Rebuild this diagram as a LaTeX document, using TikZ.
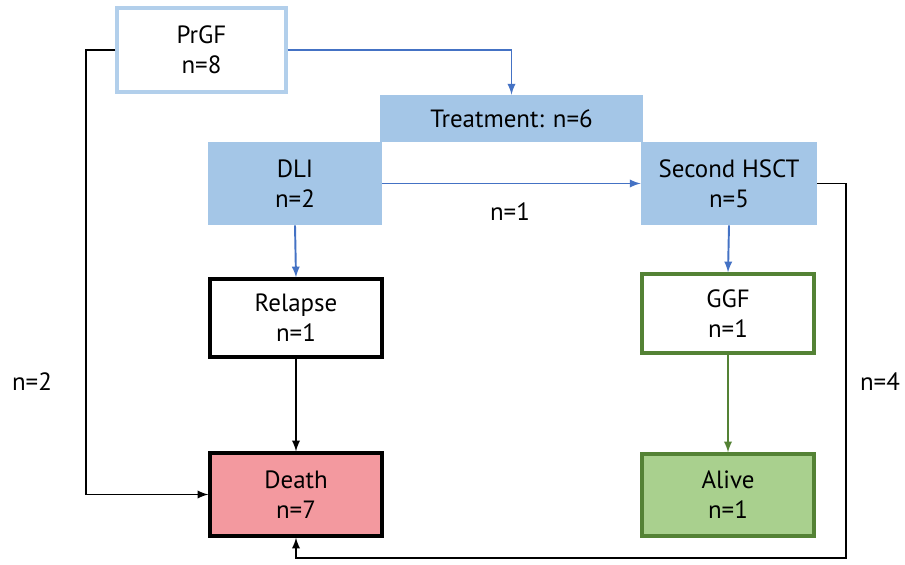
\documentclass[tikz,border=0pt]{standalone}
\usepackage{fontspec}
\setmainfont{PT Sans}
\definecolor{boxblue}{HTML}{A4C6E7}
\definecolor{lineblue}{HTML}{4472C4}
\definecolor{edgegreen}{HTML}{548235}
\definecolor{fillgreen}{HTML}{A9D08E}
\definecolor{fillred}{HTML}{F3999F}
\tikzset{
  box/.style={minimum width=3.48cm,minimum height=1.66cm,align=center,inner sep=0pt,
    font=\fontsize{14.2}{17}\selectfont},
  bluebox/.style={box,fill=boxblue},
  outbox/.style={box,draw,line width=1.9pt},
  link/.style={->,line width=1.1pt},
}
\begin{document}
\begin{tikzpicture}[>=latex,x=0.02cm,y=-0.02cm]
\useasboundingbox (0,0) rectangle (905,564);
\node (prgf) at (201.5,50)[box,draw=boxblue!85,line width=1.9pt,minimum width=3.38cm,minimum height=1.68cm]{PrGF\\n=8};
\node (treat) at (511.5,118.5)[box,fill=boxblue,minimum width=5.26cm,minimum height=0.94cm]{Treatment: n=6};
\node (dli) at (295,183.5)[bluebox]{DLI\\n=2};
\node (hsct) at (729,183.5)[bluebox,minimum width=3.52cm]{Second HSCT\\n=5};
\node (relapse) at (296,318)[outbox,minimum width=3.44cm,minimum height=1.56cm]{Relapse\\n=1};
\node (ggf) at (728,313.5)[outbox,draw=edgegreen,minimum width=3.44cm,minimum height=1.58cm]{GGF\\n=1};
\node (death) at (296,494.5)[outbox,fill=fillred,minimum width=3.44cm,minimum height=1.66cm]{Death\\n=7};
\node (alive) at (728,495)[outbox,draw=edgegreen,fill=fillgreen,minimum width=3.44cm,minimum height=1.64cm]{Alive\\n=1};
% blue connectors
\draw[link,lineblue] (prgf.east)-|(treat.north);
\draw[link,lineblue] (dli.east)--(hsct.west);
\draw[link,lineblue] (dli.south)--(relapse.north);
\draw[link,lineblue] (hsct.south)--(ggf.north);
\draw[link,edgegreen] (ggf.south)--(alive.north);
\draw[link] (relapse.south)--(death.north);
\coordinate (lefttop) at (86,50);
\coordinate (rightend) at (846,183.5);
\draw[link] (prgf.west)--(lefttop)|-(death.west);
\draw[link] (hsct.east)--(rightend)--(846,558)-|(death.south);
\node (none) at (510,212)[font=\fontsize{14.2}{17}\selectfont]{n=1};
\node (ntwo) at (32,382)[font=\fontsize{14.2}{17}\selectfont]{n=2};
\node (nfour) at (880,382)[font=\fontsize{14.2}{17}\selectfont]{n=4};
\end{tikzpicture}
\end{document}
